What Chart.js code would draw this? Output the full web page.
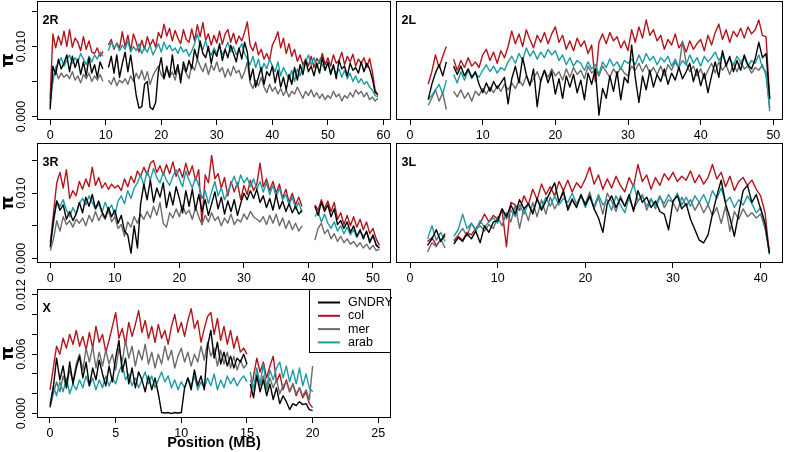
<!DOCTYPE html>
<html>
<head>
<meta charset="utf-8">
<script src="https://cdn.jsdelivr.net/npm/chart.js"></script>
<style>
html,body{margin:0;padding:0;background:#fff;}
#wrap{position:relative;width:786px;height:452px;overflow:hidden;background:#fff;}
canvas{position:absolute;}
</style>
</head>
<body>
<div id="wrap">
<canvas id="c2R" width="392" height="140" style="left:0px;top:0px;width:392px;height:140px"></canvas>
<canvas id="c2L" width="394" height="140" style="left:392px;top:0px;width:394px;height:140px"></canvas>
<canvas id="c3R" width="392" height="143" style="left:0px;top:140px;width:392px;height:143px"></canvas>
<canvas id="c3L" width="394" height="143" style="left:392px;top:140px;width:394px;height:143px"></canvas>
<canvas id="cX" width="392" height="177" style="left:0px;top:275px;width:392px;height:177px"></canvas>
</div>
<script>
// ---- tick labels ----
const xTicks2R = [0,10,20,30,40,50,60];
const xTicks2L = [0,10,20,30,40,50];
const xTicks3R = [0,10,20,30,40,50];
const xTicks3L = [0,10,20,30,40];
const xTicksX = [0,5,10,15,20,25];
const yTicksAuto = [0,0.005,0.010,0.015];
const yLabelsAuto = ['0.000','0.010'];
const yTicksX = [0,0.002,0.004,0.006,0.008,0.010,0.012];
const yLabelsX = ['0.000','0.006','0.012'];
const legendOrder = ['GNDRY','col','mer','arab'];

// ---- data: positions (MB) and nucleotide diversity pi x 1000 ----
const pos2R = [0,0.5,1,1.5,2,2.5,3,3.5,4,4.5,5,5.5,6,6.5,7,7.5,8,8.5,9,9.5,10,10.5,11,11.5,12,12.5,13,13.5,14,14.5,15,15.5,16,16.5,17,17.5,18,18.5,19,19.5,20,20.5,21,21.5,22,22.5,23,23.5,24,24.5,25,25.5,26,26.5,27,27.5,28,28.5,29,29.5,30,30.5,31,31.5,32,32.5,33,33.5,34,34.5,35,35.5,36,36.5,37,37.5,38,38.5,39,39.5,40,40.5,41,41.5,42,42.5,43,43.5,44,44.5,45,45.5,46,46.5,47,47.5,48,48.5,49,49.5,50,50.5,51,51.5,52,52.5,53,53.5,54,54.5,55,55.5,56,56.5,57,57.5,58,58.5,59];
const col2R = [2.5,11.8,9.8,11.5,10.2,12.2,10.0,12.4,9.9,11.2,
10.6,9.4,11.4,9.6,10.8,9.2,9.0,9.8,8.6,9.3,
null,10.2,11.0,9.6,10.5,9.8,12.1,10.0,11.6,9.4,
11.8,10.6,9.2,10.9,9.6,11.4,10.1,11.0,9.9,12.0,
11.2,13.2,11.5,12.6,10.8,12.3,11.2,10.4,12.4,11.0,
10.6,12.5,10.8,13.1,11.4,13.4,10.9,11.8,10.2,11.6,
10.5,12.2,10.3,11.8,12.4,10.6,11.9,10.4,11.5,10.8,
12.0,13.5,10.2,9.4,10.6,8.8,9.6,8.2,9.0,8.0,
10.2,11.0,12.1,9.8,11.2,9.0,10.4,8.6,9.6,7.9,
8.8,7.4,8.2,7.2,8.6,7.0,8.3,7.6,9.0,7.4,
8.4,7.2,8.8,7.6,8.0,9.2,7.4,8.6,7.8,8.9,
7.2,8.2,7.6,8.4,7.0,8.3,6.4,3.8,3.0];
const gndry2R = [1.0,7.2,6.0,8.2,6.8,7.6,8.8,6.4,8.6,7.0,
8.2,6.0,7.8,5.8,8.4,6.2,7.4,5.6,7.8,6.8,
null,7.0,8.6,6.2,8.8,5.6,7.6,9.2,6.4,8.8,
6.0,3.0,1.2,1.4,4.6,5.0,1.3,1.0,2.0,6.6,
8.4,5.4,7.2,5.6,8.8,6.0,7.4,4.8,7.8,6.4,
8.0,6.8,9.6,8.2,10.8,9.0,8.4,10.0,7.6,9.4,
8.6,10.4,8.0,9.6,8.4,10.2,9.0,7.8,9.8,8.2,
10.6,9.2,5.2,6.8,4.2,5.6,7.0,4.6,6.4,5.8,
7.2,4.8,6.6,4.2,5.6,3.8,6.0,4.6,7.0,5.2,
7.4,6.0,8.0,6.4,7.2,5.8,7.6,6.2,8.4,6.6,
7.8,6.0,7.4,5.4,8.0,6.8,7.2,5.8,7.6,6.6,
7.0,6.2,7.8,6.4,7.6,6.8,5.4,3.4,3.2];
const arab2R = [2.0,5.0,7.0,7.6,8.4,7.2,8.0,8.8,7.6,8.4,
7.8,9.0,8.2,7.4,8.6,7.8,8.8,8.2,9.2,8.6,
null,9.4,10.6,9.8,10.4,9.4,10.2,9.6,10.8,9.2,
10.0,9.4,10.4,9.0,9.8,9.2,10.2,8.8,9.6,10.4,
9.2,10.6,9.6,10.2,9.4,9.8,9.0,10.0,9.2,9.6,
8.6,9.4,10.4,11.8,10.2,9.6,10.8,9.4,8.8,9.8,
9.0,10.0,8.8,9.6,10.6,9.2,10.0,8.8,9.6,10.4,
9.0,8.2,7.4,8.6,7.0,8.2,6.4,7.6,6.8,8.2,
7.2,6.4,7.8,5.8,7.0,6.2,5.2,6.6,5.0,6.8,
5.8,7.2,7.8,8.8,7.4,8.4,7.0,8.2,7.4,6.6,
7.6,6.4,7.2,6.0,6.8,5.6,6.6,5.4,6.2,5.0,
5.8,4.8,5.4,4.6,5.0,4.2,3.8,3.0,2.8];
const mer2R = [1.6,5.6,6.6,5.4,6.2,5.6,6.0,5.4,6.4,5.2,
5.8,4.8,6.0,5.4,6.2,5.0,5.8,5.2,6.0,5.0,
null,5.2,4.6,5.6,4.4,5.2,4.8,5.4,4.6,5.8,
5.0,6.2,5.4,6.6,5.2,6.4,4.6,5.8,6.6,7.2,
6.0,5.4,6.8,5.6,6.4,5.2,6.8,5.8,7.0,6.2,
5.4,7.4,6.6,8.2,7.2,6.4,7.6,6.0,7.4,6.6,
7.8,6.4,7.0,5.6,6.8,5.8,7.2,6.2,6.6,5.4,
6.4,7.8,4.8,4.0,5.2,4.4,5.6,4.2,3.4,4.6,
3.6,4.2,3.2,4.0,3.0,3.8,2.8,3.6,3.2,4.2,
3.4,2.6,3.6,3.0,3.8,2.8,3.4,2.6,3.2,2.4,
3.0,2.6,3.6,2.8,3.2,2.2,3.0,2.6,3.4,2.8,
3.8,3.2,3.6,2.8,3.4,2.4,2.8,2.2,2.6];

const pos2L = [2.5,3,3.5,4,4.5,5,5.5,6,6.5,7,7.5,8,8.5,9,9.5,10,10.5,11,11.5,12,12.5,13,13.5,14,14.5,15,15.5,16,16.5,17,17.5,18,18.5,19,19.5,20,20.5,21,21.5,22,22.5,23,23.5,24,24.5,25,25.5,26,26.5,27,27.5,28,28.5,29,29.5,30,30.5,31,31.5,32,32.5,33,33.5,34,34.5,35,35.5,36,36.5,37,37.5,38,38.5,39,39.5,40,40.5,41,41.5,42,42.5,43,43.5,44,44.5,45,45.5,46,46.5,47,47.5,48,48.5,49,49.5];
const col2L = [4.6,6.4,8.8,7.0,8.6,10.0,null,8.2,6.6,8.0,
7.0,8.4,7.2,7.8,7.0,8.8,9.6,8.0,9.2,7.6,
9.4,8.4,10.0,12.2,10.4,11.8,10.0,12.4,11.0,9.8,
11.6,10.6,12.0,10.4,11.8,12.8,10.6,11.6,9.6,10.8,
9.4,11.2,10.0,10.8,9.0,10.2,5.0,10.6,11.8,10.4,
12.0,10.8,11.4,9.8,10.8,9.4,12.4,10.6,12.8,11.2,
13.8,11.6,12.4,10.8,11.6,9.6,11.0,10.2,11.8,9.8,
10.6,9.2,10.8,9.6,10.4,11.0,9.4,11.6,10.2,12.0,
13.2,11.0,12.4,10.6,12.2,11.4,12.6,11.2,12.8,11.8,
12.4,13.8,11.6,11.4,2.4];
const gndry2L = [2.4,4.6,6.2,7.4,5.8,7.8,null,7.2,6.0,7.2,
5.8,6.8,5.6,6.4,4.6,3.4,4.8,3.6,5.0,4.0,
4.8,5.6,1.8,5.4,7.2,4.8,8.4,6.0,4.4,6.8,
1.4,5.2,6.6,4.8,6.4,3.2,5.4,2.6,5.8,4.2,
6.0,3.4,5.2,2.4,6.2,4.6,6.8,0.2,4.0,2.6,
5.8,3.6,6.4,2.4,5.6,4.8,10.2,5.6,2.0,5.8,
3.8,6.6,4.2,6.0,5.0,6.8,4.6,6.2,5.2,7.0,
5.4,6.4,7.6,5.0,6.8,4.4,6.2,3.4,5.8,7.8,
5.6,9.4,7.2,8.6,6.4,8.0,6.6,8.8,7.4,6.8,
8.2,10.6,8.4,9.0,2.6];
const arab2L = [2.4,3.0,3.8,4.6,3.2,5.2,null,6.0,4.8,6.4,
5.2,6.6,5.4,6.2,5.6,6.6,7.4,6.4,7.2,6.2,
7.0,6.6,7.8,8.6,7.6,9.0,8.0,9.8,8.6,9.4,
8.2,9.2,8.4,9.6,8.8,9.4,8.0,8.8,7.4,8.4,
7.2,8.0,7.6,6.6,7.8,6.8,7.4,6.0,7.8,7.0,
8.2,7.2,7.8,6.8,8.0,7.6,8.2,7.4,8.8,7.6,
9.0,8.0,8.6,7.4,8.4,7.8,8.6,7.2,8.2,7.0,
8.0,7.4,8.8,7.6,8.4,7.2,8.6,7.8,8.4,9.2,
8.0,8.8,7.6,8.2,7.4,8.6,7.8,8.4,7.2,8.0,
7.6,8.8,7.0,6.4,0.8];
const mer2L = [1.6,2.6,3.8,2.2,3.4,1.0,null,3.6,2.8,3.8,
2.6,3.4,2.2,3.6,3.0,4.0,3.2,4.2,3.4,4.4,
3.6,4.6,3.8,4.8,4.0,5.2,4.4,5.8,4.6,5.4,
6.4,5.0,6.6,5.6,6.8,5.8,6.4,5.2,6.8,5.6,
7.0,6.0,6.6,5.4,7.2,6.2,6.8,5.8,7.2,6.4,
5.6,6.8,6.0,7.0,6.2,5.8,7.2,6.6,7.6,6.4,
7.4,6.2,7.0,6.0,7.2,5.8,7.4,6.6,7.8,6.8,
10.8,7.6,6.4,7.2,5.8,6.8,5.4,6.6,7.6,6.2,
7.8,6.6,7.4,6.0,7.6,6.4,7.8,6.8,7.2,6.2,
7.0,6.6,7.4,5.8,1.2];

const pos3R = [0,0.5,1,1.5,2,2.5,3,3.5,4,4.5,5,5.5,6,6.5,7,7.5,8,8.5,9,9.5,10,10.5,11,11.5,12,12.5,13,13.5,14,14.5,15,15.5,16,16.5,17,17.5,18,18.5,19,19.5,20,20.5,21,21.5,22,22.5,23,23.5,24,24.5,25,25.5,26,26.5,27,27.5,28,28.5,29,29.5,30,30.5,31,31.5,32,32.5,33,33.5,34,34.5,35,35.5,36,36.5,37,37.5,38,38.5,39,40,41,41.5,42,42.5,43,43.5,44,44.5,45,45.5,46,46.5,47,47.5,48,48.5,49,49.5,50,50.5,51];
const col3R = [2.4,7.0,11.6,13.2,10.8,13.6,9.2,10.4,9.6,11.8,
10.6,12.2,11.0,14.0,11.2,12.4,10.8,11.6,10.6,11.4,
10.8,11.2,10.4,12.2,11.0,12.6,11.6,13.4,12.6,14.0,
12.8,14.6,15.0,13.2,14.2,12.8,14.4,13.0,14.8,12.6,
13.8,12.4,14.6,12.8,14.2,12.0,13.6,5.2,12.8,11.6,
15.8,12.2,13.0,10.8,12.4,9.6,11.8,10.2,11.6,9.0,
11.2,9.8,12.0,10.4,11.4,14.6,11.0,12.2,10.4,11.8,
10.0,11.4,9.2,10.6,8.6,10.0,8.2,9.4,8.0,
null,
8.2,7.4,9.0,7.6,8.8,7.2,8.6,6.0,7.0,5.2,
6.6,5.0,6.4,4.8,6.0,4.4,5.6,3.8,4.6,3.0,
2.0];
const gndry3R = [1.8,6.0,8.8,7.4,8.2,6.0,7.2,5.8,6.8,8.6,
7.0,9.4,8.0,9.8,7.6,8.8,7.2,6.2,7.8,6.4,
7.4,5.4,6.6,4.2,3.6,0.8,5.0,1.6,8.4,11.4,
9.0,12.0,8.6,10.8,9.4,11.6,7.8,10.2,8.2,11.0,
9.2,7.0,10.4,8.0,10.6,7.4,9.8,7.2,9.0,6.6,
8.4,10.2,7.6,9.4,6.8,8.8,7.2,9.0,6.6,8.4,
10.0,9.0,10.4,9.2,10.6,8.6,9.6,7.8,9.2,7.4,
9.8,7.6,8.8,7.2,8.4,7.0,8.0,6.8,7.4,
null,
8.0,6.6,8.6,7.2,8.2,6.4,7.6,5.2,5.8,4.6,
5.6,4.0,5.0,3.4,4.4,3.0,4.2,2.4,3.6,2.0,
1.6];
const arab3R = [1.6,5.4,8.8,8.0,9.0,7.4,6.4,7.8,6.8,8.4,
9.2,8.2,9.6,8.6,7.6,8.4,7.0,8.6,7.4,8.2,
6.6,8.8,9.6,8.4,10.4,9.2,10.8,11.6,12.8,11.2,
13.4,12.0,13.8,12.4,11.6,13.2,12.0,11.2,12.6,13.6,
12.2,11.0,13.4,12.0,10.8,12.4,11.2,9.2,10.4,8.4,
10.2,11.8,9.6,10.8,9.0,10.2,11.4,12.6,11.0,12.8,
11.6,12.4,11.0,12.2,10.6,11.8,10.2,11.6,9.8,11.2,
9.4,10.8,9.0,9.8,8.2,9.4,7.6,8.6,7.0,
null,
6.4,7.2,5.6,6.8,5.4,4.6,5.6,4.2,5.0,3.8,
4.8,3.6,4.4,3.2,4.2,3.4,4.0,2.8,3.4,2.2,
1.6];
const mer3R = [1.2,3.0,5.8,4.2,6.4,5.2,5.8,4.8,6.0,5.4,
6.2,5.0,6.6,5.6,7.2,5.8,6.8,6.0,7.4,5.6,
6.4,4.6,5.2,3.4,5.6,4.8,6.4,5.4,6.8,6.0,
7.2,6.2,8.0,6.6,8.6,5.4,4.8,7.0,6.2,7.6,
6.4,8.2,6.8,7.4,6.0,7.8,6.4,5.2,6.6,5.6,
7.0,5.8,6.4,5.0,6.2,5.4,6.8,5.2,6.0,5.6,
6.8,6.0,7.2,6.4,6.0,5.6,6.4,5.2,6.6,5.4,
6.8,5.0,6.2,4.6,5.8,4.4,5.4,4.2,5.0,
null,
2.8,4.6,5.4,3.8,4.4,3.0,3.8,2.6,3.4,2.4,
3.0,2.2,2.6,1.8,2.4,1.6,2.2,1.4,2.0,1.2,
1.4];

const pos3L = [2,2.5,3,3.5,4,4.5,5,5.5,6,6.5,7,7.5,8,8.5,9,9.5,10,10.5,11,11.5,12,12.5,13,13.5,14,14.5,15,15.5,16,16.5,17,17.5,18,18.5,19,19.5,20,20.5,21,21.5,22,22.5,23,23.5,24,24.5,25,25.5,26,26.5,27,27.5,28,28.5,29,29.5,30,30.5,31,31.5,32,32.5,33,33.5,34,34.5,35,35.5,36,36.5,37,37.5,38,38.5,39,39.5,40,40.5,41];
const col3L = [2.6,3.2,2.0,2.8,3.4,null,
2.6,3.4,2.8,4.0,3.6,4.6,5.4,6.8,5.6,6.6,
6.0,7.4,1.8,8.6,8.2,7.4,9.6,8.2,10.6,9.0,
11.4,9.8,11.0,9.6,11.8,10.4,12.0,10.2,11.6,10.8,
12.2,14.0,11.4,12.8,10.6,12.2,10.8,12.6,11.2,10.2,
12.4,11.0,14.4,11.8,12.8,10.6,12.4,11.2,13.0,12.0,
13.2,11.8,12.6,12.0,13.4,11.6,12.8,11.4,12.4,14.4,
12.2,13.2,11.0,12.6,10.4,11.8,12.4,11.2,12.0,10.6,
9.6,7.0,0.8];
const gndry3L = [2.0,3.0,4.4,2.6,3.8,null,
2.2,3.2,2.6,3.8,3.0,4.2,2.4,5.0,4.0,5.6,
5.8,7.6,6.4,8.2,6.8,9.0,7.6,8.4,6.8,9.2,
7.4,8.8,10.2,11.6,8.6,10.4,7.4,9.0,7.8,9.8,
8.2,9.6,7.6,6.2,4.0,8.4,9.6,7.8,9.2,8.0,
9.8,7.2,10.4,8.6,9.4,7.8,8.8,7.2,6.8,4.4,
8.8,9.6,7.6,8.4,6.0,4.4,2.8,2.4,3.6,6.8,
9.6,12.0,8.4,6.2,3.4,7.0,10.4,11.2,8.6,9.8,
7.6,5.4,0.8];
const arab3L = [3.0,5.0,2.8,4.0,2.6,null,
3.4,4.4,6.8,4.6,5.4,4.2,5.8,4.8,5.6,6.2,
5.4,7.6,6.0,7.4,6.4,8.2,6.8,8.4,7.2,9.0,
7.8,9.4,8.0,9.6,8.2,9.2,8.6,10.0,8.4,9.6,
7.8,9.4,8.0,9.8,8.2,9.0,7.4,9.6,8.2,7.0,
9.4,11.4,8.8,9.6,8.0,9.2,7.6,9.4,8.4,9.8,
8.6,10.0,8.2,9.4,8.0,9.6,8.6,9.8,8.2,10.4,
9.2,10.8,8.6,9.4,7.8,9.0,8.2,9.6,8.4,7.0,
7.8,5.2,0.6];
const mer3L = [1.0,2.4,1.8,3.0,1.6,null,
2.8,3.6,4.6,3.4,5.4,4.4,5.0,4.2,5.2,4.6,
6.4,5.0,7.0,5.6,8.2,4.6,7.8,5.8,8.6,6.4,
9.0,6.8,9.4,7.6,8.8,10.0,7.8,9.2,8.0,9.6,
8.4,10.2,7.6,9.4,6.8,10.0,8.8,7.2,9.6,8.0,
9.2,7.6,8.8,9.8,7.4,9.0,8.2,9.6,7.8,9.0,
8.6,7.2,9.4,8.0,9.0,7.4,8.6,7.0,8.2,6.6,
7.8,5.4,8.0,4.2,7.2,6.0,7.6,6.4,7.0,6.2,
6.8,4.6,0.8];

const posX = [0,0.25,0.5,0.75,1,1.25,1.5,1.75,2,2.25,2.5,2.75,3,3.25,3.5,3.75,4,4.25,4.5,4.75,5,5.25,5.5,5.75,6,6.25,6.5,6.75,7,7.25,7.5,7.75,8,8.25,8.5,8.75,9,9.25,9.5,9.75,10,10.25,10.5,10.75,11,11.25,11.5,11.75,12,12.25,12.5,12.75,13,13.25,13.5,13.75,14,14.25,14.5,14.75,15,15.1,15.25,15.5,15.75,16,16.25,16.5,16.75,17,17.25,17.5,17.75,18,18.25,18.5,18.75,19,19.25,19.5,19.75,20];
const colX = [2.4,4.6,6.8,6.0,7.6,6.6,8.0,7.0,8.4,6.8,
7.8,6.4,8.2,6.6,8.8,7.2,8.0,6.2,7.4,8.8,
10.2,7.6,8.6,7.0,9.2,7.8,9.0,10.4,8.2,9.4,
7.6,8.8,7.2,9.0,7.6,8.4,7.0,8.8,10.0,8.2,
9.2,7.8,9.4,10.6,8.6,9.4,7.2,8.6,9.8,10.2,
8.0,9.6,7.4,8.8,7.0,8.4,6.6,7.8,6.2,6.6,
6.0,
null,
1.6,3.8,5.6,4.2,5.2,3.6,4.8,5.8,3.2,4.0,
2.4,3.4,2.2,3.0,1.8,2.6,1.6,2.2,1.0,0.6];
const gndryX = [0.7,2.6,5.6,3.4,4.8,2.6,5.2,3.0,4.6,5.8,
3.6,5.2,2.8,4.6,3.4,5.4,4.0,2.8,4.8,3.2,
5.6,7.4,4.2,5.6,3.0,4.6,2.6,4.2,3.4,2.2,
3.8,2.4,3.6,2.0,0.1,0.05,0.1,0.0,0.1,0.05,
0.1,2.6,3.6,2.4,4.4,2.8,3.8,2.4,6.8,8.4,
5.6,7.2,5.0,6.2,4.8,5.8,4.6,5.6,5.2,6.0,
5.0,
null,
3.0,1.6,3.8,2.2,3.4,1.8,3.0,1.4,2.6,1.0,
1.8,1.2,0.4,1.0,0.8,1.2,0.9,1.0,0.4,0.3];
const merX = [0.6,2.0,3.2,2.2,3.8,2.6,4.4,3.2,5.0,6.0,
4.4,6.6,5.2,6.8,4.6,6.2,4.8,6.4,5.0,6.0,
4.4,6.6,5.2,7.4,5.6,6.8,4.8,6.4,5.4,7.0,
5.0,6.2,4.6,6.0,5.0,6.8,5.4,6.4,4.6,5.8,
6.6,5.2,6.2,4.8,6.0,5.2,6.8,5.4,7.2,5.8,
6.6,4.8,6.4,5.0,6.2,4.6,5.8,4.4,5.4,4.6,
5.0,
null,
3.4,2.6,4.0,2.8,3.8,2.4,3.6,2.6,3.4,2.0,
2.8,3.2,2.2,3.0,2.0,2.6,1.8,2.4,1.4,4.8];
const arabX = [1.0,2.8,1.8,3.2,2.2,3.6,2.0,3.0,2.4,3.4,
2.6,3.8,2.8,3.6,2.4,3.4,2.6,3.8,2.8,3.6,
3.0,4.2,5.0,3.4,4.0,2.8,3.6,2.6,3.4,4.2,
3.0,3.8,2.6,3.4,4.2,3.2,3.8,2.6,3.4,2.4,
3.2,2.6,3.6,2.8,3.8,2.4,3.2,2.6,3.6,2.8,
4.0,2.4,3.4,2.6,3.8,3.0,3.6,2.8,3.4,3.8,
3.2,
null,
4.2,2.4,4.6,3.0,5.0,2.6,4.4,3.4,4.6,5.2,
3.6,4.8,3.2,4.4,3.0,4.6,2.8,4.0,2.6,2.2];

// ---- styling ----
const FONT = '"Liberation Sans", Arial, Helvetica, sans-serif';
const seriesColors = {GNDRY:'#000000', col:'#B3141C', mer:'#6B6B6B', arab:'#1E9AA2'};

function pts(pos, vals) {
  return pos.map((p, i) => ({x: p, y: (vals[i] === null || vals[i] === undefined) ? null : vals[i] / 1000}));
}

function makePanel(id, cfg) {
  const series = [['GNDRY', cfg.gndry], ['arab', cfg.arab], ['mer', cfg.mer], ['col', cfg.col]];
  const datasets = series.map(([name, vals]) => ({
    label: name,
    data: pts(cfg.pos, vals),
    borderColor: seriesColors[name],
    backgroundColor: seriesColors[name],
    borderWidth: 1.4,
    borderJoinStyle: 'round',
    pointRadius: 0,
    fill: false,
    tension: 0,
    spanGaps: false
  }));
  const deco = {
    id: 'deco_' + id,
    afterDraw(chart) {
      const a = chart.chartArea, ctx = chart.ctx;
      ctx.save();
      ctx.strokeStyle = '#000';
      ctx.lineWidth = 1;
      ctx.strokeRect(Math.round(a.left) + 0.5, Math.round(a.top) + 0.5, Math.round(a.right - a.left) - 1, Math.round(a.bottom - a.top) - 1);
      ctx.fillStyle = '#000';
      ctx.font = 'bold 12.5px ' + FONT;
      ctx.textAlign = 'left';
      ctx.textBaseline = 'alphabetic';
      ctx.fillText(cfg.name, a.left + 5.5, a.top + 23);
      if (cfg.legend) {
        const w = 82, h = 64, l = Math.round(a.right) - w, t = Math.round(a.top);
        ctx.fillStyle = '#fff';
        ctx.fillRect(l, t, w, h);
        ctx.strokeStyle = '#000';
        ctx.lineWidth = 1;
        ctx.strokeRect(l + 0.5, t + 0.5, w - 1, h - 1);
        ctx.font = '12.5px ' + FONT;
        ctx.textBaseline = 'middle';
        legendOrder.forEach((name, i) => {
          const y = t + 13.5 + i * 13.3;
          ctx.strokeStyle = seriesColors[name];
          ctx.lineWidth = 2;
          ctx.beginPath(); ctx.moveTo(l + 9, y); ctx.lineTo(l + 31, y); ctx.stroke();
          ctx.fillStyle = '#000';
          ctx.fillText(name, l + 39, y);
        });
      }
      ctx.restore();
    }
  };
  const gridOpts = {display: true, drawOnChartArea: false, drawTicks: true, tickLength: 5, tickColor: '#000', tickWidth: 1, color: '#000'};
  new Chart(document.getElementById(id), {
    type: 'line',
    data: {datasets: datasets},
    options: {
      responsive: false,
      maintainAspectRatio: false,
      animation: false,
      devicePixelRatio: 1,
      events: [],
      layout: {padding: cfg.pad},
      plugins: {legend: {display: false}, tooltip: {enabled: false}, title: {display: false}},
      scales: {
        x: {
          type: 'linear', position: 'bottom',
          min: cfg.xmin, max: cfg.xmax,
          afterBuildTicks: s => { s.ticks = cfg.xTicks.map(v => ({value: v})); },
          afterFit: s => { s.height = cfg.xh; s.paddingLeft = 0; s.paddingRight = 0; },
          grid: gridOpts,
          border: {display: false},
          ticks: {autoSkip: false, maxRotation: 0, minRotation: 0, padding: 3, color: '#000',
                  font: {family: FONT, size: 12.5}, callback: v => String(v)},
          title: cfg.xTitle ? {display: true, text: cfg.xTitle, color: '#000', padding: {top: 0, bottom: 0},
                  font: {family: FONT, size: 14.5, weight: 'bold'}} : {display: false}
        },
        y: {
          type: 'linear', position: 'left',
          display: cfg.showY,
          min: cfg.ymin, max: cfg.ymax,
          afterBuildTicks: s => { s.ticks = cfg.yTicks.map(v => ({value: v})); },
          afterFit: s => { s.width = cfg.showY ? 37 : 0; s.paddingTop = 0; s.paddingBottom = 0; },
          grid: gridOpts,
          border: {display: false},
          ticks: {autoSkip: false, minRotation: 90, maxRotation: 90, crossAlign: 'center', padding: -5, color: '#000',
                  font: {family: FONT, size: 12.5},
                  callback: v => { const s = Number(v).toFixed(3); return cfg.yLabels.includes(s) ? s : ''; }},
          title: {display: true, text: 'π', color: '#000', padding: {top: -2, bottom: 0},
                  font: {family: '"DejaVu Sans", ' + FONT, size: 18, weight: 'bold'}}
        }
      }
    },
    plugins: [deco]
  });
}

makePanel('c2R', {name: '2R', pos: pos2R, col: col2R, gndry: gndry2R, arab: arab2R, mer: mer2R,
  xmin: -2.36, xmax: 61.36, ymin: -0.0005, ymax: 0.0165, xTicks: xTicks2R, yTicks: yTicksAuto, yLabels: yLabelsAuto,
  showY: true, xh: 20, pad: {left: 0, top: 1, right: 1, bottom: 0}});
makePanel('c2L', {name: '2L', pos: pos2L, col: col2L, gndry: gndry2L, arab: arab2L, mer: mer2L,
  xmin: -1.93, xmax: 51.33, ymin: -0.0005, ymax: 0.0165, xTicks: xTicks2L, yTicks: yTicksAuto, yLabels: yLabelsAuto,
  showY: false, xh: 20, pad: {left: 4, top: 1, right: 3, bottom: 0}});
makePanel('c3R', {name: '3R', pos: pos3R, col: col3R, gndry: gndry3R, arab: arab3R, mer: mer3R,
  xmin: -2.06, xmax: 52.79, ymin: -0.0007, ymax: 0.0177, xTicks: xTicks3R, yTicks: yTicksAuto, yLabels: yLabelsAuto,
  showY: true, xh: 20, pad: {left: 0, top: 3, right: 1, bottom: 0}});
makePanel('c3L', {name: '3L', pos: pos3L, col: col3L, gndry: gndry3L, arab: arab3L, mer: mer3L,
  xmin: -1.6, xmax: 42.55, ymin: -0.0007, ymax: 0.0177, xTicks: xTicks3L, yTicks: yTicksAuto, yLabels: yLabelsAuto,
  showY: false, xh: 20, pad: {left: 4, top: 3, right: 3, bottom: 0}});
makePanel('cX', {name: 'X', pos: posX, col: colX, gndry: gndryX, arab: arabX, mer: merX,
  xmin: -0.99, xmax: 25.97, ymin: -0.00045, ymax: 0.01258, xTicks: xTicksX, yTicks: yTicksX, yLabels: yLabelsX,
  showY: true, xh: 34, pad: {left: 0, top: 14, right: 1, bottom: 0}, xTitle: 'Position (MB)', legend: true});
</script>
</body>
</html>
